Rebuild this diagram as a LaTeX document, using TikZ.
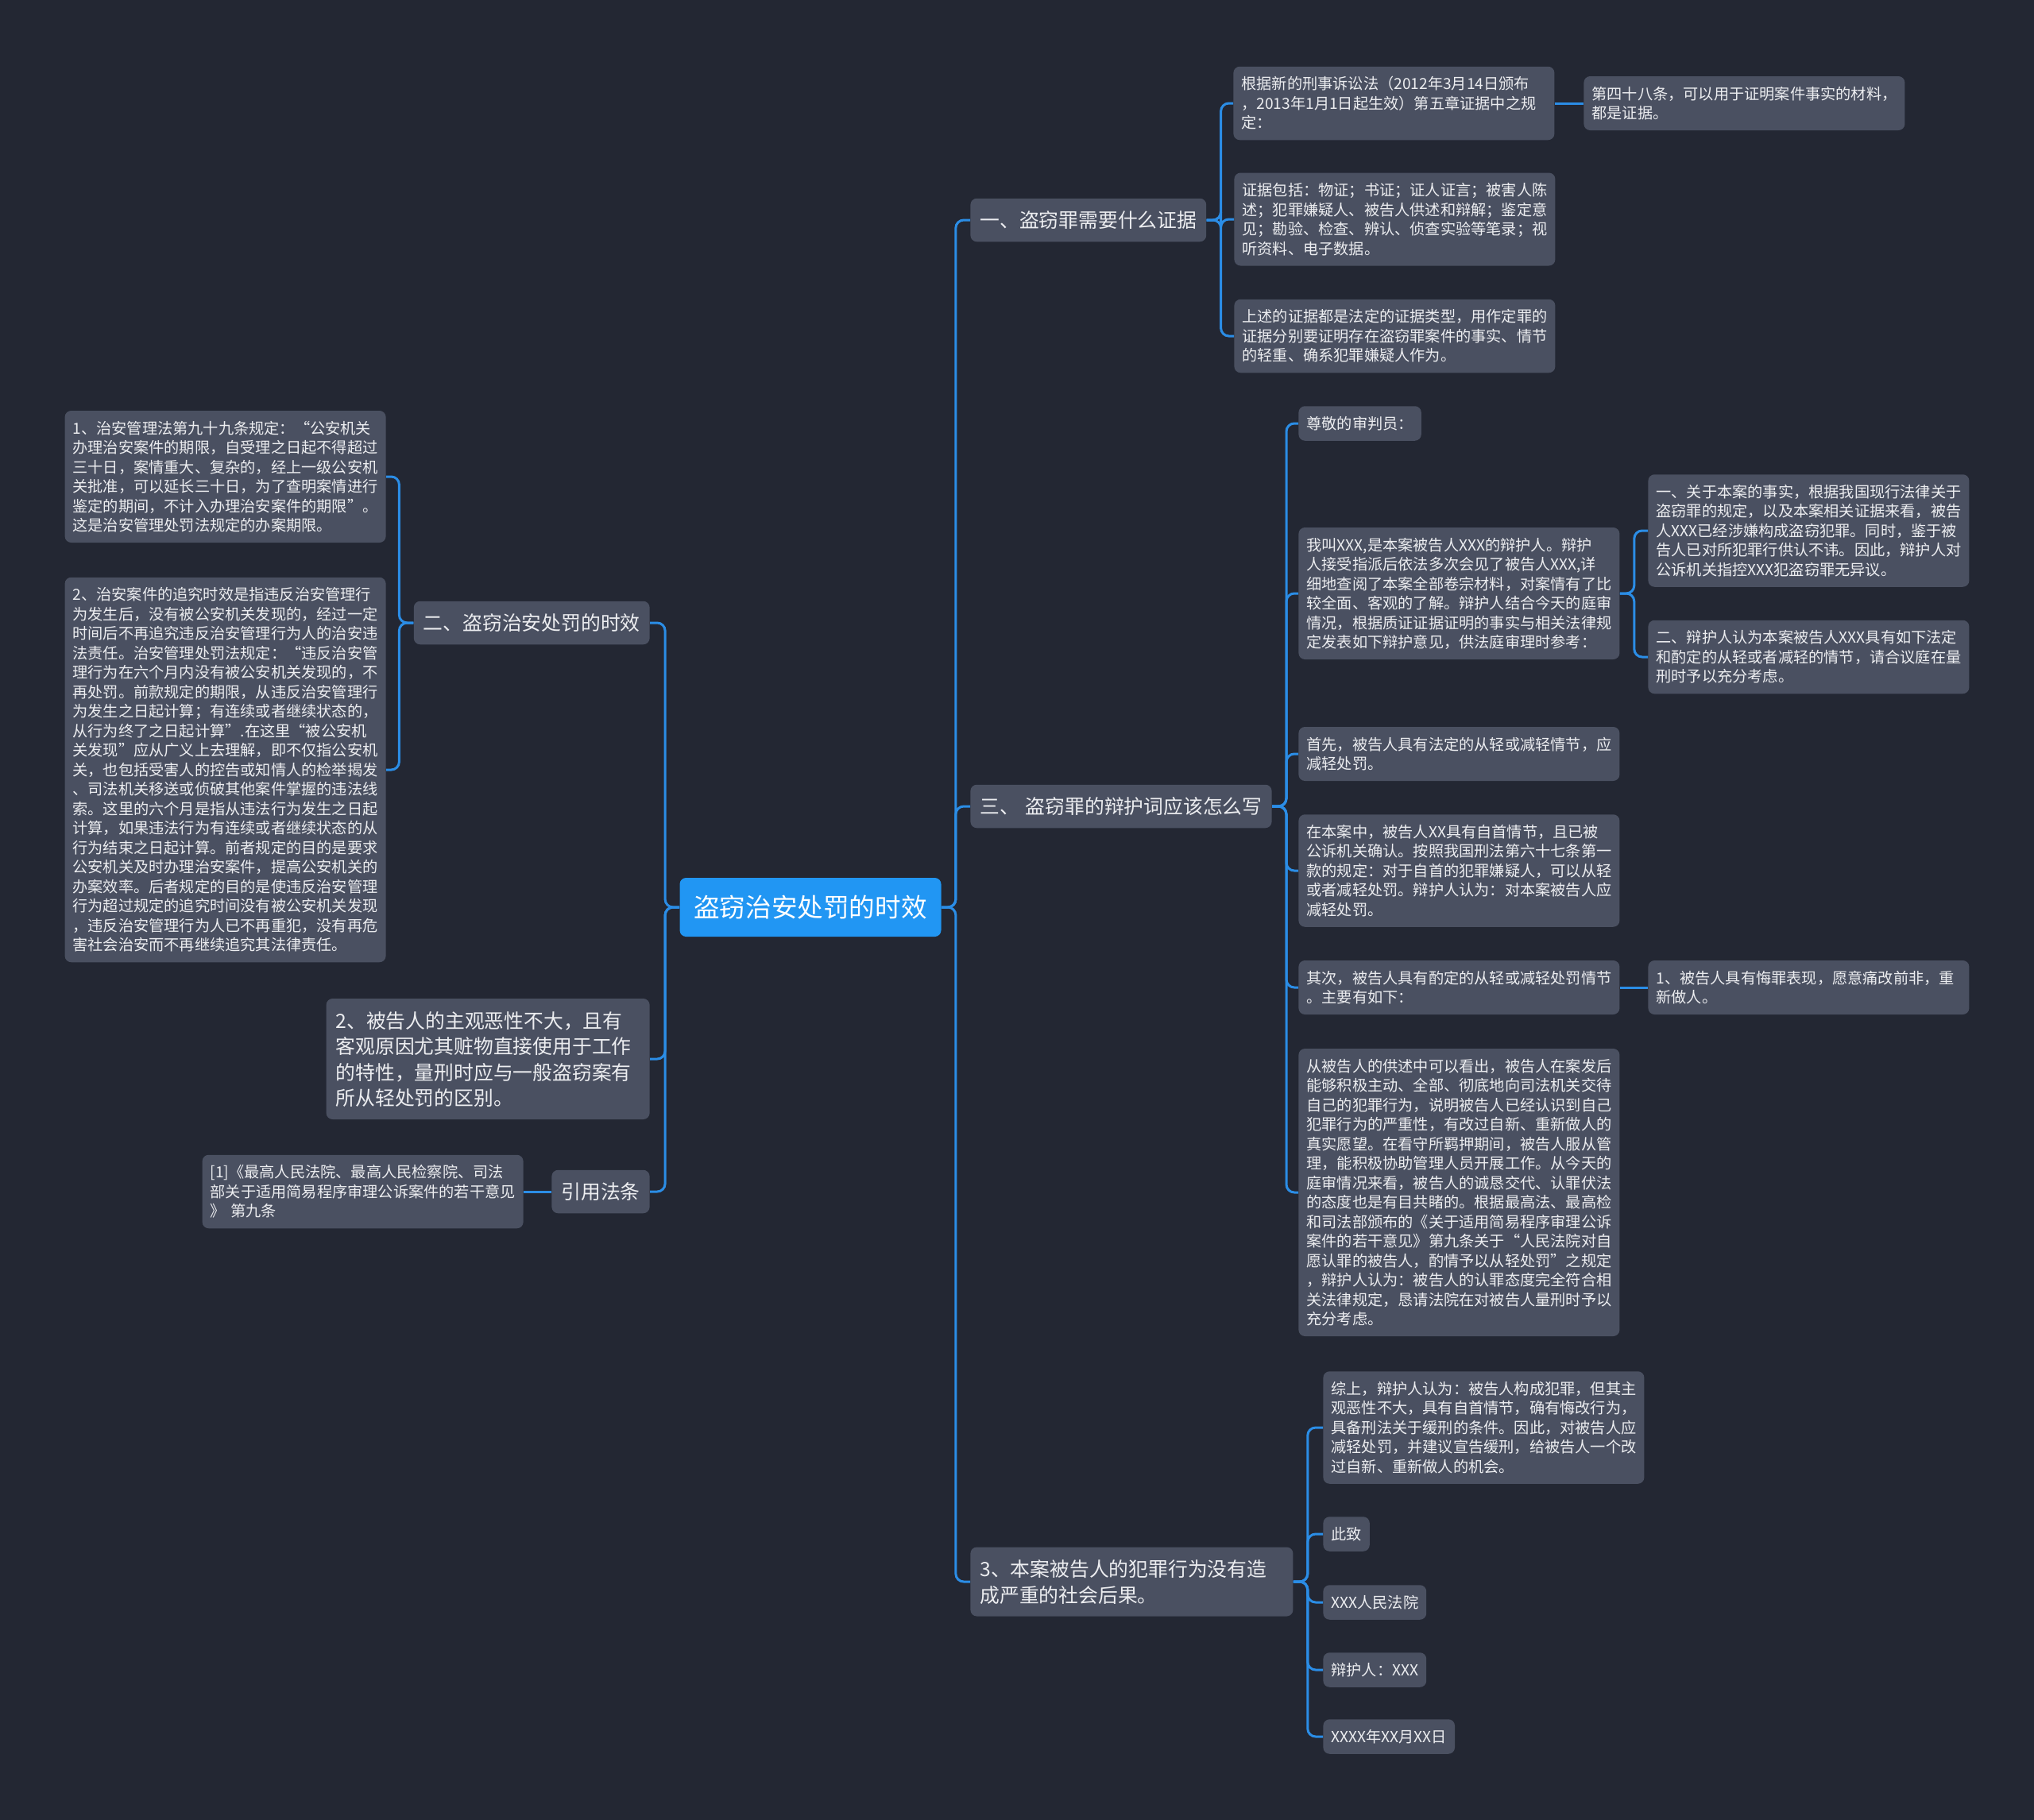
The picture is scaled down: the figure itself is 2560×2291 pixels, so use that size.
\documentclass[tikz,border=0pt]{standalone}
\usepackage{fontspec}
\setmainfont{Noto Sans CJK SC}

\definecolor{bgdark}{HTML}{232733}
\definecolor{nodegray}{HTML}{4A5061}
\definecolor{rootblue}{HTML}{2196F3}
\definecolor{linkblue}{HTML}{2B8DE6}
\definecolor{textwhite}{HTML}{ECEDF0}

\newcommand{\boxstrut}{\rule[-0.26em]{0pt}{\baselineskip}}

\begin{document}
\begin{tikzpicture}[x=0.5pt, y=-0.5pt,
  box/.style={fill=nodegray, rounded corners=4pt, text=textwhite, align=left,
    execute at begin node=\boxstrut, execute at end node=\boxstrut},
  leaf/.style={box, font=\fontsize{9.6}{12.25}\selectfont, inner xsep=5pt, inner ysep=4.75pt},
  wide/.style={leaf, text width=192pt},
  branch/.style={box, font=\fontsize{12.4}{16.25}\selectfont, inner xsep=6pt, inner ysep=5.5pt},
  topic/.style={fill=rootblue, rounded corners=4pt, text=white,
    font=\fontsize{16.3}{20}\selectfont, minimum width=164.5pt, minimum height=37pt},
  link/.style={draw=linkblue, line width=1.5pt, rounded corners=5pt}]
\def\Gap{18}

% background fixes the page size
\fill[bgdark] (0,0) rectangle (2560,2291);

\node[topic] (root) at (1020,1142) {盗窃治安处罚的时效};

% right side
\node[branch, anchor=west] (ev) at (1221,277) {一、盗窃罪需要什么证据};
\node[branch, anchor=west] (defense) at (1221,1015) {三、\hspace{4pt}盗窃罪的辩护词应该怎么写};
\node[branch, anchor=west, text width=191pt] (consequence) at (1221,1991)
  {3、本案被告人的犯罪行为没有造\\成严重的社会后果。};

\node[wide, anchor=west] (ev-rule) at (1552,130)
  {根据新的刑事诉讼法（2012年3月14日颁布\\，2013年1月1日起生效）第五章证据中之规\\定：};
\node[wide, anchor=west] (ev-art48) at (1993,130)
  {第四十八条，可以用于证明案件事实的材料，\\都是证据。};
\node[wide, anchor=west] (ev-list) at (1553,276)
  {证据包括：物证；书证；证人证言；被害人陈\\述；犯罪嫌疑人、被告人供述和辩解；鉴定意\\见；勘验、检查、辨认、侦查实验等笔录；视\\听资料、电子数据。};
\node[wide, anchor=west] (ev-use) at (1553,423)
  {上述的证据都是法定的证据类型，用作定罪的\\证据分别要证明存在盗窃罪案件的事实、情节\\的轻重、确系犯罪嫌疑人作为。};

\node[leaf, anchor=west] (def-greet) at (1634,533) {尊敬的审判员：};
\node[wide, anchor=west] (def-intro) at (1634,747)
  {我叫XXX,是本案被告人XXX的辩护人。辩护\\人接受指派后依法多次会见了被告人XXX,详\\细地查阅了本案全部卷宗材料，对案情有了比\\较全面、客观的了解。辩护人结合今天的庭审\\情况，根据质证证据证明的事实与相关法律规\\定发表如下辩护意见，供法庭审理时参考：};
\node[wide, anchor=west] (def-fact) at (2074,668)
  {一、关于本案的事实，根据我国现行法律关于\\盗窃罪的规定，以及本案相关证据来看，被告\\人XXX已经涉嫌构成盗窃犯罪。同时，鉴于被\\告人已对所犯罪行供认不讳。因此，辩护人对\\公诉机关指控XXX犯盗窃罪无异议。};
\node[wide, anchor=west] (def-plea) at (2074,827)
  {二、辩护人认为本案被告人XXX具有如下法定\\和酌定的从轻或者减轻的情节，请合议庭在量\\刑时予以充分考虑。};
\node[wide, anchor=west] (def-first) at (1634,949)
  {首先，被告人具有法定的从轻或减轻情节，应\\减轻处罚。};
\node[wide, anchor=west] (def-surrender) at (1634,1096)
  {在本案中，被告人XX具有自首情节，且已被\\公诉机关确认。按照我国刑法第六十七条第一\\款的规定：对于自首的犯罪嫌疑人，可以从轻\\或者减轻处罚。辩护人认为：对本案被告人应\\减轻处罚。};
\node[wide, anchor=west] (def-second) at (1634,1243)
  {其次，被告人具有酌定的从轻或减轻处罚情节\\。主要有如下：};
\node[wide, anchor=west] (def-remorse) at (2074,1243)
  {1、被告人具有悔罪表现，愿意痛改前非，重\\新做人。};
\node[wide, anchor=west] (def-confess) at (1634,1501)
  {从被告人的供述中可以看出，被告人在案发后\\能够积极主动、全部、彻底地向司法机关交待\\自己的犯罪行为，说明被告人已经认识到自己\\犯罪行为的严重性，有改过自新、重新做人的\\真实愿望。在看守所羁押期间，被告人服从管\\理，能积极协助管理人员开展工作。从今天的\\庭审情况来看，被告人的诚恳交代、认罪伏法\\的态度也是有目共睹的。根据最高法、最高检\\和司法部颁布的《关于适用简易程序审理公诉\\案件的若干意见》第九条关于“人民法院对自\\愿认罪的被告人，酌情予以从轻处罚”之规定\\，辩护人认为：被告人的认罪态度完全符合相\\关法律规定，恳请法院在对被告人量刑时予以\\充分考虑。};

\node[wide, anchor=west] (end-sum) at (1665,1797)
  {综上，辩护人认为：被告人构成犯罪，但其主\\观恶性不大，具有自首情节，确有悔改行为，\\具备刑法关于缓刑的条件。因此，对被告人应\\减轻处罚，并建议宣告缓刑，给被告人一个改\\过自新、重新做人的机会。};
\node[leaf, anchor=west] (end-close) at (1665,1931) {此致};
\node[leaf, anchor=west] (end-court) at (1665,2017) {XXX人民法院};
\node[leaf, anchor=west] (end-sign) at (1665,2102) {辩护人：XXX};
\node[leaf, anchor=west] (end-date) at (1665,2186) {XXXX年XX月XX日};

% left side
\node[branch, anchor=east] (limit) at (818,784) {二、盗窃治安处罚的时效};
\node[branch, anchor=east, text width=191.5pt] (malice) at (818,1333)
  {2、被告人的主观恶性不大，且有\\客观原因尤其赃物直接使用于工作\\的特性，量刑时应与一般盗窃案有\\所从轻处罚的区别。};
\node[branch, anchor=east] (cite) at (818,1500) {引用法条};

\node[wide, anchor=east] (lim-period) at (486,600)
  {1、治安管理法第九十九条规定：“公安机关\\办理治安案件的期限，自受理之日起不得超过\\三十日，案情重大、复杂的，经上一级公安机\\关批准，可以延长三十日，为了查明案情进行\\鉴定的期间，不计入办理治安案件的期限”。\\这是治安管理处罚法规定的办案期限。};
\node[wide, anchor=east] (lim-expiry) at (486,969)
  {2、治安案件的追究时效是指违反治安管理行\\为发生后，没有被公安机关发现的，经过一定\\时间后不再追究违反治安管理行为人的治安违\\法责任。治安管理处罚法规定：“违反治安管\\理行为在六个月内没有被公安机关发现的，不\\再处罚。前款规定的期限，从违反治安管理行\\为发生之日起计算；有连续或者继续状态的，\\从行为终了之日起计算”.在这里“被公安机\\关发现”应从广义上去理解，即不仅指公安机\\关，也包括受害人的控告或知情人的检举揭发\\、司法机关移送或侦破其他案件掌握的违法线\\索。这里的六个月是指从违法行为发生之日起\\计算，如果违法行为有连续或者继续状态的从\\行为结束之日起计算。前者规定的目的是要求\\公安机关及时办理治安案件，提高公安机关的\\办案效率。后者规定的目的是使违反治安管理\\行为超过规定的追究时间没有被公安机关发现\\，违反治安管理行为人已不再重犯，没有再危\\害社会治安而不再继续追究其法律责任。};
\node[wide, anchor=east] (cite-ref) at (659,1500)
  {[1]《最高人民法院、最高人民检察院、司法\\部关于适用简易程序审理公诉案件的若干意见\\》 第九条};

% connectors
\foreach \c in {ev,defense,consequence}
  \draw[link] (root.east) -- ++(\Gap,0) |- (\c.west);
\foreach \c in {limit,malice,cite}
  \draw[link] (root.west) -- ++(-\Gap,0) |- (\c.east);
\foreach \c in {ev-rule,ev-list,ev-use}
  \draw[link] (ev.east) -- ++(\Gap,0) |- (\c.west);
\draw[link] (ev-rule.east) -- (ev-art48.west);
\foreach \c in {def-greet,def-intro,def-first,def-surrender,def-second,def-confess}
  \draw[link] (defense.east) -- ++(\Gap,0) |- (\c.west);
\foreach \c in {def-fact,def-plea}
  \draw[link] (def-intro.east) -- ++(\Gap,0) |- (\c.west);
\draw[link] (def-second.east) -- (def-remorse.west);
\foreach \c in {end-sum,end-close,end-court,end-sign,end-date}
  \draw[link] (consequence.east) -- ++(\Gap,0) |- (\c.west);
\foreach \c in {lim-period,lim-expiry}
  \draw[link] (limit.west) -- ++(-\Gap,0) |- (\c.east);
\draw[link] (cite.west) -- (cite-ref.east);
\end{tikzpicture}
\end{document}
